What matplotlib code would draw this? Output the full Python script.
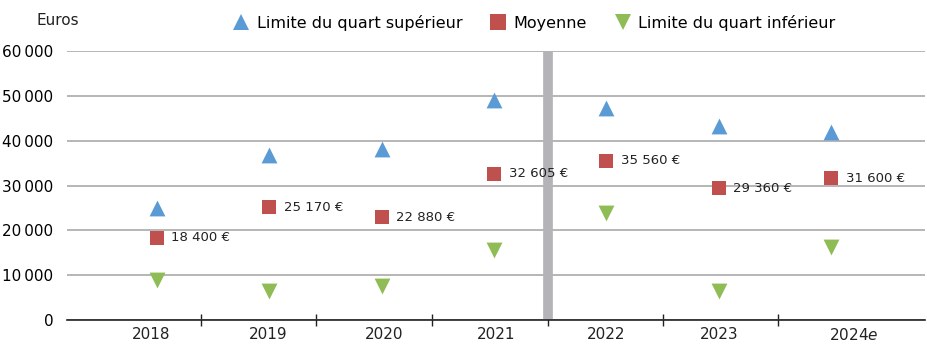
import matplotlib.pyplot as plt
from matplotlib.lines import Line2D

years = ["2018", "2019", "2020", "2021", "2022", "2023", "2024$\\it{e}$"]
upper = [25000, 36800, 38100, 49000, 47300, 43300, 41900]
mean = [18400, 25170, 22880, 32605, 35560, 29360, 31600]
lower = [8900, 6500, 7600, 15600, 23900, 6500, 16300]
mean_labels = ["18 400 €", "25 170 €", "22 880 €", "32 605 €", "35 560 €", "29 360 €", "31 600 €"]

blue = "#5b9bd5"
red = "#c0504d"
green = "#8fbc55"

plt.rcParams['font.family'] = ['DejaVu Sans']
fig = plt.figure(figsize=(9.27, 3.47), dpi=100)
ax = fig.add_axes([0.0723, 0.0778, 0.926, 0.775])

x = list(range(len(years)))
ax.scatter(x, upper, marker="^", s=130, color=blue, zorder=3, linewidths=0)
ax.scatter(x, mean, marker="s", s=110, color=red, zorder=3, linewidths=0)
ax.scatter(x, lower, marker="v", s=130, color=green, zorder=3, linewidths=0)

for xi, yi, lab in zip(x, mean, mean_labels):
    ax.annotate(lab, (xi, yi), xytext=(10.5, 0), textcoords="offset points",
                va="center", ha="left", fontsize=9.5, color="#222222")

# separator between observed years and estimate
ax.axvline(3.48, color="#b4b4b8", lw=7, zorder=2)

ax.set_xlim(-0.80, 6.84)
ax.set_ylim(0, 60000)
ax.set_yticks(range(0, 60001, 10000))
ax.set_yticklabels([f"{v:,}".replace(",", "\u2009") for v in range(0, 60001, 10000)],
                   fontsize=11)
ax.yaxis.grid(True, color="#b0b0b0", lw=1.3)
ax.set_axisbelow(True)
ax.tick_params(axis="y", length=0, pad=10)

# category boundary ticks on the x axis
ax.set_xticks([0.39, 1.42, 2.45, 3.48, 4.50, 5.53])
ax.set_xticklabels([])
ax.tick_params(axis="x", length=8, width=1, direction="inout", colors="#222222")
label_pos = [-0.05, 0.99, 2.02, 3.02, 4.0, 5.0, 6.2]
for p, lab in zip(label_pos, years):
    ax.text(p, -0.025, lab, transform=ax.get_xaxis_transform(), ha="center", va="top",
            fontsize=11, color="#222222")

for s in ["top", "right", "left"]:
    ax.spines[s].set_visible(False)
ax.spines["bottom"].set_color("#222222")
ax.spines["bottom"].set_linewidth(1.2)

fig.text(0.039, 0.94, "Euros", fontsize=11, va="center", color="#222222")

handles = [
    Line2D([], [], ls="", marker="^", ms=12, color=blue, mew=0),
    Line2D([], [], ls="", marker="s", ms=11, color=red, mew=0),
    Line2D([], [], ls="", marker="v", ms=12, color=green, mew=0),
]
fig.legend(handles, ["Limite du quart supérieur", "Moyenne", "Limite du quart inférieur"],
           loc="center left", bbox_to_anchor=(0.232, 0.935), ncol=3, frameon=False,
           fontsize=11.5, handletextpad=0.2, columnspacing=1.5, handlelength=1.5)

fig.savefig("out.png", dpi=100)
